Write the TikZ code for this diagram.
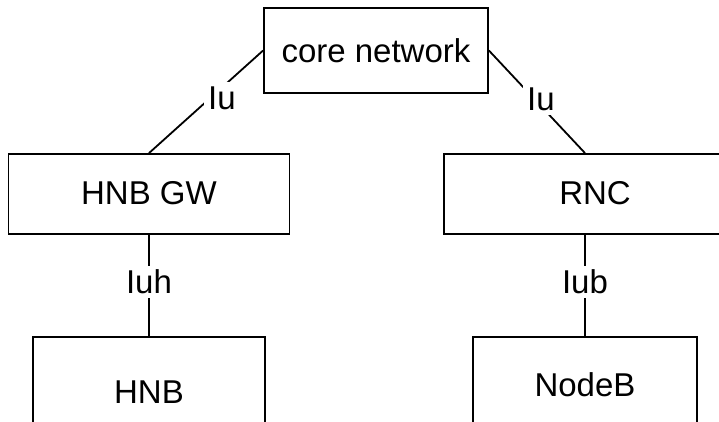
\documentclass[tikz,border=0pt]{standalone}
\usepackage{fontspec}
\setmainfont{Liberation Sans}
\begin{document}
\begin{tikzpicture}[x=1pt,y=-1pt,
  box/.style={draw,line width=1.8pt,rectangle,inner sep=0pt,font=\fontsize{33}{40}\selectfont},
  iflabel/.style={fill=white,inner sep=4pt,font=\fontsize{33}{40}\selectfont},
  conn/.style={line width=1.8pt}]
\clip (0,0) rectangle (719,421);
\fill[white] (0,0) rectangle (719,421);
\node[box,minimum width=224,minimum height=85] (core) at (376,50.5) {core network};
\node[box,minimum width=281,minimum height=80] (hnbgw) at (149,194) {\raisebox{2pt}{HNB GW}};
\node[box,minimum width=302,minimum height=80] (rnc) at (595,194) {\raisebox{2pt}{RNC}};
\node[box,minimum width=232,minimum height=110] (hnb) at (149,392) {HNB};
\node[box,minimum width=224,minimum height=110] (nodeb) at (585,392) {\raisebox{15pt}{NodeB}};
\draw[conn] (core.west) -- (hnbgw.north);
\draw[conn] (core.east) -- (nodeb.north |- rnc.north);
\draw[conn] (hnbgw.south) -- (hnb.north);
\draw[conn] (nodeb.north |- rnc.south) -- (nodeb.north);
\node[iflabel] (iul) at (222,98) {Iu};
\node[iflabel] (iur) at (541,99) {Iu};
\node[iflabel] (iuh) at (149,282) {Iuh};
\node[iflabel] (iub) at (585,282) {Iub};
\end{tikzpicture}
\end{document}
